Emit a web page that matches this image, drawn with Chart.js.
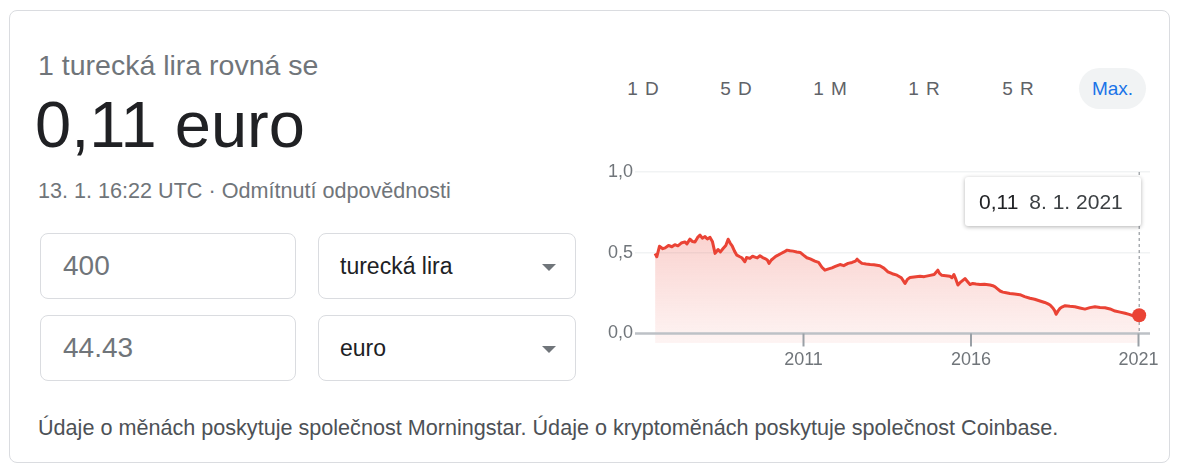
<!DOCTYPE html>
<html lang="cs">
<head>
<meta charset="utf-8">
<title>Turecká lira na euro</title>
<script src="https://cdn.jsdelivr.net/npm/chart.js@4.4.1/dist/chart.umd.min.js"></script>
<style>
  html, body { margin: 0; padding: 0; background: #fff; }
  body {
    width: 1179px; height: 466px; position: relative; overflow: hidden;
    font-family: Arial, 'Liberation Sans', sans-serif;
  }
  .card {
    position: absolute; left: 9px; top: 10px; width: 1159px; height: 451px;
    border: 1px solid #dadce0; border-radius: 8px;
  }
  .abs { position: absolute; white-space: nowrap; line-height: 1; }
  #caption { left: 38px; top: 51px; font-size: 28.5px; color: #70757a; }
  #result { left: 35px; top: 92px; font-size: 65px; color: #202124; }
  #stamp { left: 38px; top: 180px; font-size: 21.6px; color: #70757a; }
  #source { left: 38px; top: 417px; font-size: 21.6px; color: #4d5156; }

  .box {
    position: absolute; box-sizing: border-box; height: 66px;
    border: 1px solid #dadce0; border-radius: 8px;
    display: flex; align-items: center; white-space: nowrap;
  }
  .amount { left: 40px; width: 256px; padding-left: 22px; font-size: 28px; color: #70757a; }
  .unit { left: 318px; width: 258px; padding-left: 21px; font-size: 23px; color: #202124; }
  .unit::after {
    content: ''; position: absolute; right: 19px; top: 30px;
    border-left: 7px solid transparent; border-right: 7px solid transparent;
    border-top: 7px solid #70757a;
  }
  .row1 { top: 233px; }
  .row2 { top: 315px; }

  .range {
    position: absolute; top: 68px; height: 41px; width: 67px;
    display: flex; align-items: center; justify-content: center;
    font-size: 19px; letter-spacing: 1px; color: #5f6368; border-radius: 21px;
  }
  .range.on { background: #f1f3f4; color: #1a73e8; letter-spacing: 0; }

  #chartBox { position: absolute; left: 595px; top: 150px; width: 570px; height: 230px; }
  #tip {
    position: absolute; left: 965px; top: 177px; width: 176px; height: 49px;
    box-sizing: border-box; padding-left: 14px;
    background: #fff; border-radius: 3px; box-shadow: 0 1px 4px rgba(0,0,0,0.3);
    display: flex; align-items: center; font-size: 21px; white-space: nowrap;
  }
  #tip .val { color: #202124; }
  #tip .day { color: #3c4043; margin-left: 11px; }
</style>
</head>
<body>
<div class="card"></div>
<div class="abs" id="caption">1 turecká lira rovná se</div>
<div class="abs" id="result">0,11 euro</div>
<div class="abs" id="stamp">13. 1. 16:22 UTC · Odmítnutí odpovědnosti</div>

<div class="box amount row1">400</div>
<div class="box unit row1">turecká lira</div>
<div class="box amount row2">44.43</div>
<div class="box unit row2">euro</div>

<div class="range" style="left:610px">1 D</div>
<div class="range" style="left:703px">5 D</div>
<div class="range" style="left:797px">1 M</div>
<div class="range" style="left:891px">1 R</div>
<div class="range" style="left:985px">5 R</div>
<div class="range on" style="left:1079px">Max.</div>

<div id="chartBox"><canvas id="rateChart" width="570" height="230"></canvas></div>
<div id="tip"><span class="val">0,11</span><span class="day">8. 1. 2021</span></div>

<div class="abs" id="source">Údaje o měnách poskytuje společnost Morningstar. Údaje o kryptoměnách poskytuje společnost Coinbase.</div>

<script>
'use strict';

// TRY -> EUR (decimal years)
const years = [
  2006.57, 2006.62, 2006.70, 2006.80, 2006.87, 2006.97, 2007.07, 2007.16, 2007.25, 2007.35,
  2007.46, 2007.52, 2007.61, 2007.68, 2007.76, 2007.84, 2007.91, 2007.98, 2008.06, 2008.13,
  2008.21, 2008.28, 2008.36, 2008.45, 2008.52, 2008.60, 2008.68, 2008.75, 2008.81, 2008.87,
  2008.94, 2009.01, 2009.10, 2009.16, 2009.25, 2009.30, 2009.40, 2009.48, 2009.55, 2009.62,
  2009.70, 2009.78, 2009.85, 2009.92, 2009.97, 2010.04, 2010.09, 2010.17, 2010.24, 2010.33,
  2010.42, 2010.51, 2010.60, 2010.69, 2010.80, 2010.90, 2011.00, 2011.10, 2011.20, 2011.34,
  2011.45, 2011.55, 2011.64, 2011.75, 2011.85, 2011.95, 2012.09, 2012.20, 2012.33, 2012.45,
  2012.55, 2012.60, 2012.67, 2012.75, 2012.87, 2012.99, 2013.10, 2013.28, 2013.40, 2013.52,
  2013.65, 2013.79, 2013.92, 2014.03, 2014.10, 2014.18, 2014.30, 2014.48, 2014.60, 2014.78,
  2014.90, 2015.01, 2015.06, 2015.13, 2015.25, 2015.37, 2015.43, 2015.49, 2015.55, 2015.61,
  2015.70, 2015.82, 2015.90, 2015.97, 2016.05, 2016.15, 2016.27, 2016.40, 2016.57, 2016.65,
  2016.72, 2016.80, 2016.87, 2016.95, 2017.05, 2017.16, 2017.30, 2017.46, 2017.60, 2017.76,
  2017.90, 2018.06, 2018.20, 2018.30, 2018.36, 2018.45, 2018.50, 2018.54, 2018.60, 2018.66,
  2018.73, 2018.81, 2018.95, 2019.10, 2019.25, 2019.40, 2019.55, 2019.70, 2019.85, 2020.00,
  2020.15, 2020.30, 2020.45, 2020.60, 2020.72, 2020.84, 2020.92, 2021.02,
];
const rates = [
  0.495, 0.475, 0.540, 0.525, 0.530, 0.545, 0.537, 0.550, 0.543, 0.560,
  0.567, 0.555, 0.584, 0.570, 0.567, 0.595, 0.609, 0.590, 0.600, 0.585,
  0.595, 0.570, 0.496, 0.520, 0.505, 0.526, 0.545, 0.584, 0.560, 0.543,
  0.510, 0.485, 0.475, 0.469, 0.444, 0.470, 0.465, 0.478, 0.473, 0.468,
  0.481, 0.470, 0.464, 0.455, 0.434, 0.455, 0.464, 0.478, 0.485, 0.495,
  0.505, 0.516, 0.512, 0.510, 0.505, 0.502, 0.485, 0.469, 0.462, 0.448,
  0.440, 0.410, 0.392, 0.400, 0.406, 0.415, 0.427, 0.420, 0.434, 0.440,
  0.448, 0.460, 0.445, 0.434, 0.430, 0.427, 0.425, 0.419, 0.405, 0.382,
  0.370, 0.361, 0.345, 0.310, 0.335, 0.347, 0.350, 0.354, 0.352, 0.360,
  0.365, 0.392, 0.372, 0.360, 0.358, 0.354, 0.345, 0.365, 0.335, 0.300,
  0.320, 0.340, 0.320, 0.303, 0.310, 0.306, 0.303, 0.305, 0.300, 0.296,
  0.289, 0.275, 0.263, 0.256, 0.252, 0.248, 0.244, 0.240, 0.228, 0.218,
  0.212, 0.201, 0.192, 0.183, 0.176, 0.156, 0.140, 0.119, 0.140, 0.156,
  0.165, 0.172, 0.168, 0.165, 0.158, 0.151, 0.160, 0.165, 0.161, 0.159,
  0.152, 0.139, 0.132, 0.125, 0.118, 0.110, 0.108, 0.113,
];
const yearTicks = [2011, 2016, 2021];
const rateTicks = [0, 0.5, 1];

const lineRed = '#ea4335';
const labelGrey = '#70757a';
Chart.defaults.font.family = 'Arial, "Liberation Sans", sans-serif';

function fillGradient(context) {
  const chart = context.chart;
  const area = chart.chartArea;
  if (!area) { return 'rgba(234,67,53,0.15)'; }
  const top = chart.scales.y.getPixelForValue(0.62);
  const g = chart.ctx.createLinearGradient(0, top, 0, area.bottom);
  g.addColorStop(0, 'rgba(234,67,53,0.24)');
  g.addColorStop(1, 'rgba(234,67,53,0.06)');
  return g;
}

// zero line, tick marks under it and the dashed marker at the last quote
const axisDecor = {
  id: 'axisDecor',
  beforeDatasetsDraw(chart) {
    const {ctx, chartArea, scales} = chart;
    const x = scales.x.getPixelForValue(years[years.length - 1]);
    ctx.save();
    ctx.strokeStyle = '#80868b';
    ctx.lineWidth = 1;
    ctx.setLineDash([3, 3]);
    ctx.beginPath();
    ctx.moveTo(x, chartArea.top);
    ctx.lineTo(x, scales.y.getPixelForValue(0));
    ctx.stroke();
    ctx.restore();
  },
  afterDatasetsDraw(chart) {
    const {ctx, chartArea, scales} = chart;
    const y0 = scales.y.getPixelForValue(0);
    ctx.save();
    ctx.strokeStyle = '#bdc1c6';
    ctx.lineWidth = 2.5;
    ctx.beginPath();
    ctx.moveTo(chartArea.left, y0);
    ctx.lineTo(chartArea.right, y0);
    ctx.stroke();
    ctx.strokeStyle = '#9aa0a6';
    ctx.lineWidth = 2;
    yearTicks.forEach(function (t) {
      const x = scales.x.getPixelForValue(t);
      ctx.beginPath();
      ctx.moveTo(x, y0);
      ctx.lineTo(x, y0 + 13);
      ctx.stroke();
    });
    ctx.restore();
  },
};

new Chart(document.getElementById('rateChart'), {
  type: 'line',
  data: {
    datasets: [{
      data: years.map((x, i) => ({x: x, y: rates[i]})),
      borderColor: lineRed,
      borderWidth: 3,
      borderJoinStyle: 'round',
      backgroundColor: fillGradient,
      fill: 'start',
      tension: 0,
      pointRadius: ctx => (ctx.dataIndex === years.length - 1 ? 7 : 0),
      pointBackgroundColor: lineRed,
      pointBorderWidth: 0,
    }],
  },
  options: {
    responsive: false,
    animation: false,
    devicePixelRatio: 1,
    events: [],
    layout: {padding: {top: 22, right: 15, left: 0, bottom: 0}},
    plugins: {
      legend: {display: false},
      tooltip: {enabled: false},
    },
    scales: {
      x: {
        type: 'linear',
        min: 2005.97,
        max: 2021.343,
        afterBuildTicks: scale => { scale.ticks = yearTicks.map(v => ({value: v})); },
        afterFit: scale => { scale.height = 37; },
        grid: {display: false, drawTicks: false},
        border: {display: false},
        ticks: {
          padding: 6,
          color: labelGrey,
          autoSkip: false,
          maxRotation: 0,
          font: {size: 18},
          callback: v => String(v),
        },
      },
      y: {
        min: -0.059,
        max: 1,
        afterBuildTicks: scale => { scale.ticks = rateTicks.map(v => ({value: v})); },
        afterFit: scale => { scale.width = 40; },
        grid: {
          drawTicks: false,
          lineWidth: 1.5,
          color: ctx => (ctx.tick && ctx.tick.value === 0 ? 'rgba(0,0,0,0)' : '#f1f3f4'),
        },
        border: {display: false},
        ticks: {
          padding: 2,
          color: labelGrey,
          font: {size: 18},
          callback: v => v.toFixed(1).replace('.', ','),
        },
      },
    },
  },
  plugins: [axisDecor],
});
</script>
</body>
</html>
